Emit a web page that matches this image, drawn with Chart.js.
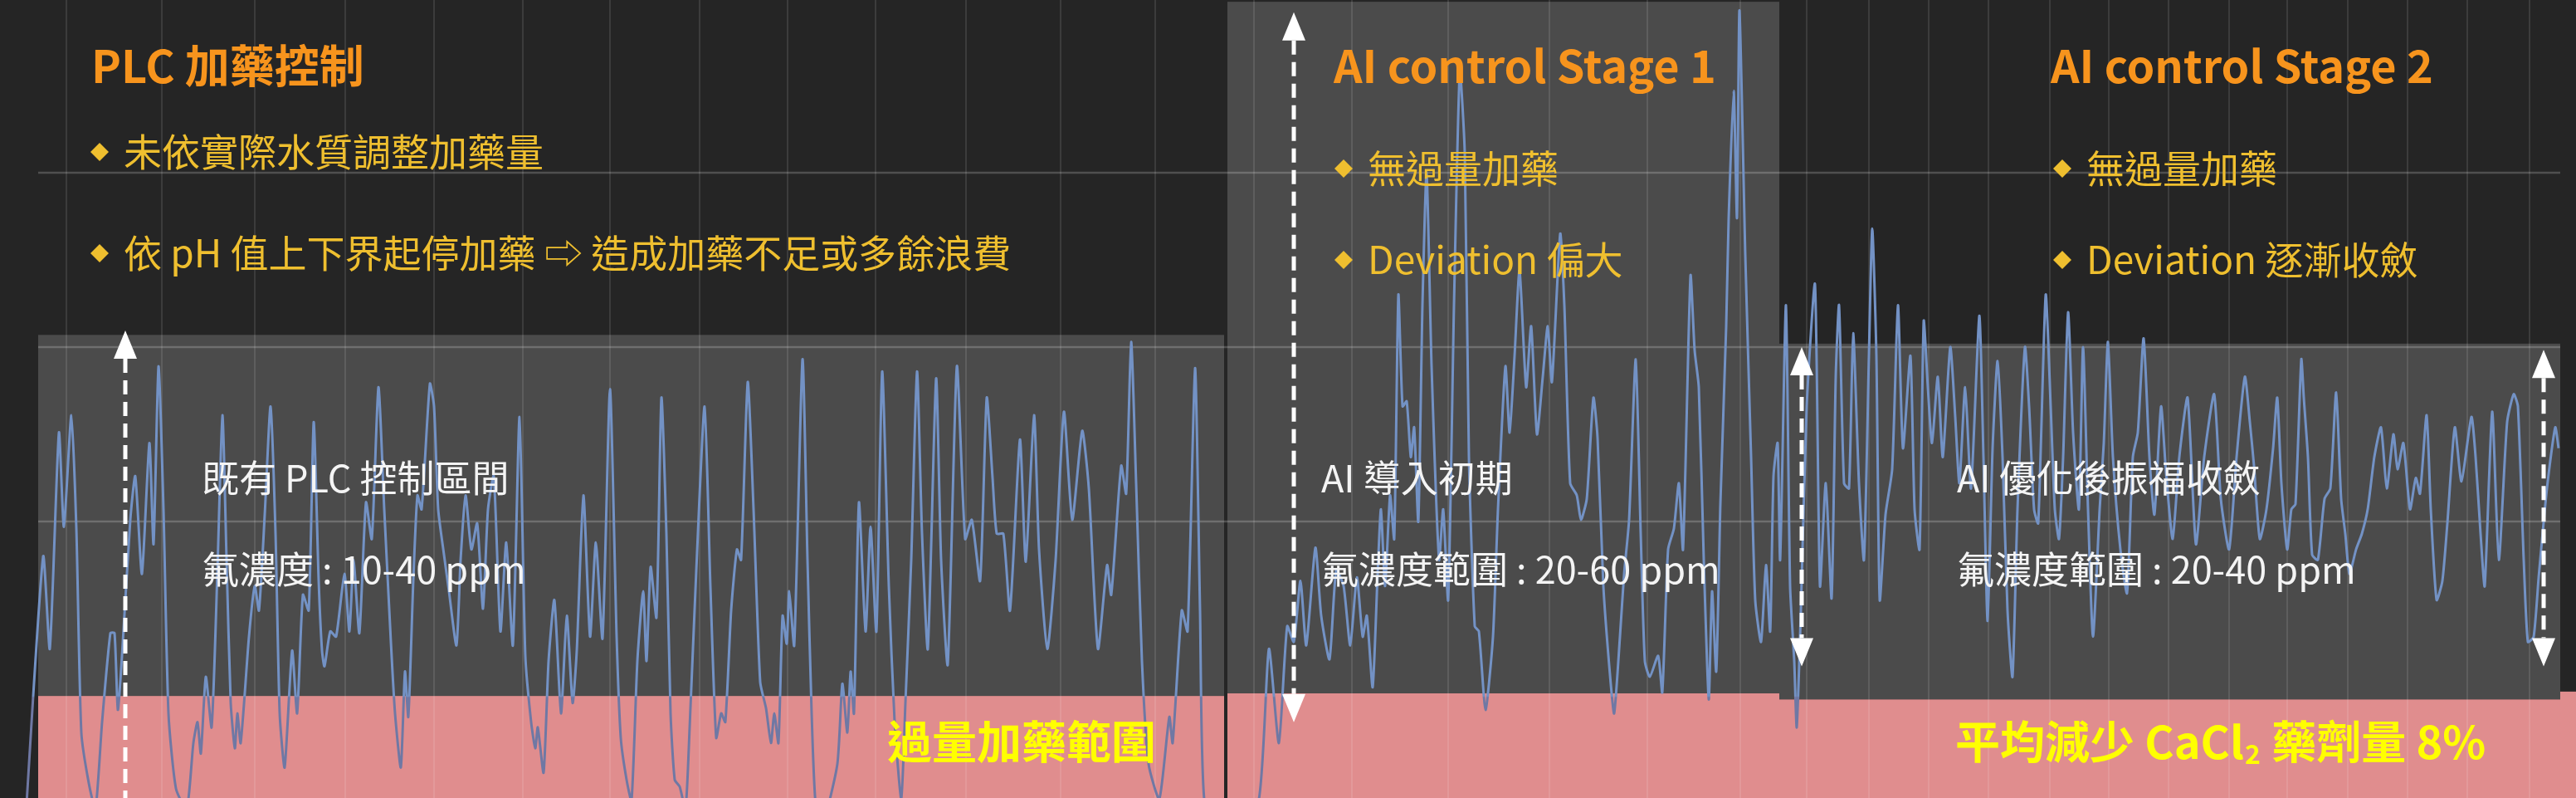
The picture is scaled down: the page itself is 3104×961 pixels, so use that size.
<!DOCTYPE html>
<html>
<head>
  <meta charset="UTF-8">
  <title>PLC 與 AI 加藥控制 - 氟濃度趨勢</title>
  <script src="https://cdn.jsdelivr.net/npm/chart.js"></script>
  <style>
    html, body { margin: 0; padding: 0; background: #252525; overflow: hidden; }
    #wrap { width: 3104px; height: 961px; }
  </style>
</head>
<body>
  <div id="wrap"><canvas id="fluorideChart" width="3104" height="961"></canvas></div>

  <script>
    // 取樣序號 / 氟濃度 (ppm)，依三個階段分開
    const plcTime = [7.5, 13, 15, 17.75, 19.25, 21.5, 23, 24.5, 26.75, 28.75,
      30.75, 33.25, 34.5, 35.5, 36.75, 39.25, 40.75, 42.75, 45, 46.25,
      47.75, 49.25, 50.75, 53, 56.25, 58.25, 59.5, 60.5, 62, 63.75,
      65.5, 67, 68.25, 69.5, 70.75, 71.5, 72.5, 75, 76.75, 78,
      79.75, 81.5, 83, 84.25, 85.75, 88, 89.5, 91.25, 93, 94.5,
      96, 97, 97.75, 99.5, 101.25, 103.75, 105.25, 106.5, 108.25, 110.25,
      112, 114, 115.75, 117.75, 119, 120.75, 122, 123, 124.5, 125.75,
      127, 129.5, 130.75, 132, 133.75, 135.25, 137.5, 138.75, 140.25, 142,
      143.75, 145.5, 147, 148.75, 150.75, 152.5, 154.5, 156.5, 158.25, 160,
      161.25, 162, 163.75, 165.25, 167, 169, 170.75, 172.5, 173.75, 175.75,
      177.75, 179.5, 181.5, 183.75, 185.75, 187, 188.75, 190.25, 192, 193.75,
      194.75, 196, 197.75, 199.25, 200.75, 202, 203.25, 204.75, 206.5, 207.75,
      209.75, 212.25, 214, 215.75, 217.25, 218.5, 220.25, 222, 223.25, 225.25,
      227, 229, 230.75, 232.25, 233.25, 234.5, 235.75, 237, 237.75, 239.25,
      241.75, 243.25, 244.5, 245.75, 248, 252.25, 253.75, 255.25, 256.25, 257.25,
      258.75, 260.75, 262.25, 264, 265.75, 267.75, 269.5, 271.5, 272.75, 274.5,
      276.25, 277.75, 279.5, 282, 283.5, 285.5, 288.25, 290.75, 292.75, 295.25,
      297.25, 299, 300.25, 302.25, 304.25, 307.25, 309, 311.5, 313, 315.5,
      318, 320.5, 323, 326, 328, 330.75, 333.5, 334.75, 337.75, 339.25,
      340.75, 342.25, 344, 346, 349.25, 352.25, 353.25, 356, 357.75, 360,
      361.5, 362.75, 367.5];
    const plcPpm = [2.3, 18.0, 12.7, 25.1, 19.7, 26.1, 19.6, 7.9, 5.0, 3.5,
      8.5, 13.6, 13.6, 9.2, 12.3, 20.1, 22.6, 17.0, 24.5, 18.7,
      28.9, 20.7, 9.0, 4.7, 3.5, 7.3, 8.5, 6.7, 11.1, 8.2,
      17.2, 26.1, 17.8, 9.6, 7.0, 9.0, 7.3, 13.4, 16.3, 14.9,
      20.4, 26.6, 19.3, 9.0, 5.9, 12.6, 9.0, 15.8, 14.9, 25.7,
      16.6, 12.6, 11.7, 13.7, 13.4, 17.0, 13.7, 17.8, 13.6, 21.1,
      19.0, 27.7, 20.7, 13.1, 9.0, 5.9, 11.4, 8.8, 16.6, 21.5,
      20.7, 27.9, 26.6, 20.7, 18.1, 16.0, 12.9, 17.8, 21.5, 18.4,
      19.9, 15.0, 20.7, 22.6, 13.7, 18.8, 12.9, 26.0, 12.3, 8.5,
      7.0, 8.2, 5.6, 12.0, 15.5, 9.0, 14.6, 9.6, 12.6, 21.5,
      13.4, 18.8, 13.3, 27.6, 13.4, 7.6, 5.2, 4.0, 12.0, 16.0,
      12.0, 17.4, 14.5, 27.1, 19.3, 9.0, 5.2, 4.8, 3.5, 8.2,
      17.2, 26.6, 16.3, 7.6, 9.0, 8.5, 14.9, 18.4, 17.8, 28.0,
      20.7, 10.8, 9.3, 7.3, 9.0, 7.3, 14.6, 13.0, 16.0, 12.9,
      29.3, 17.8, 9.0, 3.7, 2.8, 6.1, 10.7, 7.9, 11.4, 9.0,
      21.1, 13.7, 19.7, 13.7, 28.6, 16.3, 8.5, 4.1, 9.6, 17.8,
      28.6, 19.3, 12.7, 28.2, 17.8, 11.8, 28.9, 19.0, 20.1, 16.6,
      27.1, 22.5, 19.3, 19.3, 14.9, 24.7, 17.7, 26.1, 18.4, 12.7,
      17.8, 26.3, 20.1, 25.2, 21.9, 12.7, 17.5, 15.8, 23.2, 21.6,
      30.3, 22.2, 12.0, 6.1, 4.1, 8.8, 7.3, 14.9, 13.7, 28.8,
      14.9, 4.1, 2.3];

    const stage1Time = [372.5, 379.25, 382.25, 385.25, 387.75, 389.75, 391.75, 393.5, 396.25, 398,
      400.5, 402.5, 404.75, 406.75, 408.75, 410.5, 411.75, 413.5, 415, 416,
      417.25, 418.75, 420, 421.25, 422.5, 423.75, 425, 426, 427.25, 428.5,
      429.75, 431.25, 433.5, 434.75, 436.25, 438, 439.75, 441.25, 442.5, 444.25,
      445.5, 447.5, 449.75, 451.25, 453.5, 454.75, 456.25, 457.75, 459.75, 461.25,
      463, 464.75, 466.25, 467.5, 470, 471.25, 473, 475, 476.25, 478,
      480, 481.25, 483, 485, 486.25, 488, 489.25, 490.75, 492.75, 494.25,
      495.5, 497, 499.5, 500.75, 502.5, 504.25, 505.75, 507, 509.25, 510.5,
      511.75, 513.25, 514.75, 515.75, 517, 518.25, 520, 520.75, 522.25, 523.25,
      524, 525.75, 527.5, 528.75, 530.5, 532, 533.25, 534.25, 535.5];
    const stage1Ppm = [2.3, 4.1, 12.7, 7.3, 14.0, 13.1, 16.6, 12.9, 18.5, 14.6,
      12.1, 17.2, 16.3, 12.9, 16.8, 13.4, 14.6, 10.5, 17.0, 20.7,
      16.3, 21.5, 19.0, 33.0, 26.6, 26.9, 23.7, 25.4, 20.0, 32.4,
      40.0, 28.9, 17.8, 20.7, 15.5, 32.4, 45.8, 41.1, 23.7, 14.0,
      13.7, 9.2, 13.4, 20.7, 28.9, 25.1, 29.5, 34.4, 27.7, 31.2,
      25.0, 28.3, 31.2, 28.0, 36.5, 32.4, 22.2, 21.5, 20.1, 21.3,
      27.1, 24.8, 16.3, 11.2, 9.0, 13.4, 17.0, 20.1, 29.3, 19.3,
      12.0, 11.1, 12.3, 10.2, 18.4, 19.6, 22.2, 18.4, 34.1, 29.8,
      27.7, 17.8, 9.8, 16.0, 11.4, 21.0, 31.2, 37.4, 44.7, 37.4,
      49.3, 35.3, 23.7, 15.5, 13.1, 17.5, 13.7, 22.6, 24.5];

    const stage2Time = [536.25, 538, 539.25, 540.5, 541.25, 542.5, 544.25, 546.75, 548.25, 550,
      551.75, 553, 554, 555.5, 557, 558.25, 560, 561.5, 563, 564,
      565.25, 566.25, 568, 570, 571.75, 573.25, 575.5, 576.75, 578.25, 579.5,
      580.75, 582, 583.75, 585.25, 587.5, 589, 590.25, 592, 593.75, 596.25,
      597.5, 598.75, 600.25, 601.75, 603.25, 604.75, 606.25, 607.75, 610, 611.25,
      612.75, 614, 616.25, 617.75, 619, 620.25, 621.5, 623, 624.5, 626.25,
      627.5, 629, 630.5, 632.5, 633.75, 635, 636.5, 638.75, 640.75, 642.5,
      644, 645.75, 647.5, 649, 651, 652.5, 654.5, 656.5, 659, 661.5,
      664, 667, 669, 671.5, 673.75, 676.25, 677.75, 679, 680.75, 682.75,
      684.75, 686, 687.25, 689, 690.25, 691.5, 693.25, 694, 695.25, 696.5,
      698.25, 700.25, 702, 703.75, 705.25, 706.5, 707.75, 709.75, 711.5, 713.25,
      715.25, 717.25, 719, 721, 722.25, 724, 726, 727.75, 729, 731,
      732.25, 734, 735.75, 737.25, 739.5, 741.5, 744.5, 745.75, 747.25, 748.5,
      750.75, 752.75, 755.25, 757.25, 758.5, 760.25, 761.5, 763.25, 764.75, 767.25,
      769.75, 770.75];
    const stage2Ppm = [17.8, 32.4, 16.3, 12.0, 8.2, 14.9, 26.6, 33.6, 16.3, 22.2,
      15.6, 28.3, 32.4, 22.2, 21.9, 30.8, 22.2, 17.8, 29.5, 36.8,
      29.5, 15.5, 20.4, 23.0, 32.4, 24.2, 29.5, 20.7, 18.4, 31.5,
      27.7, 24.5, 28.3, 23.7, 30.0, 26.0, 22.2, 27.7, 21.9, 31.8,
      23.7, 14.3, 24.2, 29.2, 23.7, 14.9, 11.1, 20.7, 30.0, 26.6,
      20.7, 19.9, 33.0, 26.6, 20.7, 19.0, 23.7, 32.0, 25.1, 20.7,
      30.0, 20.7, 13.4, 20.7, 24.5, 30.3, 23.7, 18.4, 15.9, 23.7,
      25.1, 30.5, 23.7, 20.4, 26.6, 22.8, 19.0, 23.7, 27.1, 18.7,
      23.7, 27.3, 21.3, 18.4, 23.7, 28.3, 25.7, 23.2, 19.0, 20.7,
      24.2, 27.1, 22.2, 18.4, 20.7, 21.0, 29.3, 27.1, 23.7, 18.1,
      17.8, 21.3, 21.9, 27.4, 21.3, 19.3, 17.0, 18.4, 19.3, 20.7,
      23.7, 25.4, 21.9, 25.0, 23.0, 24.5, 20.7, 22.5, 21.6, 26.1,
      20.7, 15.5, 16.6, 19.9, 25.4, 22.3, 26.0, 23.7, 19.3, 16.3,
      26.3, 17.8, 25.7, 27.3, 26.6, 17.8, 13.1, 13.4, 16.8, 21.9,
      25.4, 24.2];

    // 格線位置
    const xGridTicks = [20, 48.75, 76.75, 104, 130.75, 157.5, 183.75, 210.75, 237.25, 263.75,
      291, 319.5, 348, 377.75, 407.25, 436.25, 466.75, 496.25, 524.25, 544.25,
      563, 581, 599, 617.5, 635.25, 653.25, 671.5, 689, 707.25, 725.25, 743.25, 762];
    const yGridTicks = [20, 30, 40];

    // 各階段區間 (取樣序號 / ppm)
    const bands = [
      { from: 11.5, to: 368.75, top: 30.7, pink: 10.0 },
      { from: 369.75, to: 536, top: 49.8, pink: 10.15 },
      { from: 536, to: 771.25, top: 30.2, pink: 9.8 },
      { from: 771.25, to: 776, top: 10.25, pink: 10.25 }
    ];
    const arrows = [
      { t: 37.75, top: 30.95, bottom: 0, down: false },
      { t: 389.75, top: 49.2, bottom: 8.5, down: true },
      { t: 542.75, top: 30.0, bottom: 11.7, down: true },
      { t: 766.25, top: 29.85, bottom: 11.7, down: true }
    ];

    const FONT = '"Noto Sans CJK TC", "Noto Sans", "DejaVu Sans", sans-serif';
    const ORANGE = '#f7941d';
    const GOLD = '#efbf2f';
    const YELLOW = '#ffff00';
    const WHITE = '#f4f4f4';

    const titles = [
      { text: 'PLC 加藥控制', x: 110, y: 79 },
      { text: 'AI control Stage 1', x: 1607, y: 79 },
      { text: 'AI control Stage 2', x: 2471, y: 79 }
    ];
    const bullets = [
      { text: '未依實際水質調整加藥量', x: 120, y: 183 },
      { text: '依 pH 值上下界起停加藥 ⇨ 造成加藥不足或多餘浪費', x: 120, y: 305 },
      { text: '無過量加藥', x: 1619, y: 203 },
      { text: 'Deviation 偏大', x: 1619, y: 313 },
      { text: '無過量加藥', x: 2485, y: 203 },
      { text: 'Deviation 逐漸收斂', x: 2485, y: 313 }
    ];
    const notes = [
      { text: '既有 PLC 控制區間', x: 243, y: 576 },
      { text: '氟濃度 : 10-40 ppm', x: 243, y: 686 },
      { text: 'AI 導入初期', x: 1592, y: 576 },
      { text: '氟濃度範圍 : 20-60 ppm', x: 1592, y: 686 },
      { text: 'AI 優化後振福收斂', x: 2358, y: 576 },
      { text: '氟濃度範圍 : 20-40 ppm', x: 2358, y: 686 }
    ];

    function toPoints(ts, vs) {
      return ts.map((t, i) => ({ x: t, y: vs[i] }));
    }

    function drawArrow(ctx, x, yTop, yBottom, down) {
      const hw = 14, hh = 34;
      ctx.save();
      ctx.strokeStyle = '#ffffff';
      ctx.fillStyle = '#ffffff';
      ctx.lineWidth = 5;
      ctx.setLineDash([17, 9]);
      ctx.beginPath();
      ctx.moveTo(x, yTop + hh);
      ctx.lineTo(x, down ? yBottom - hh : yBottom);
      ctx.stroke();
      ctx.setLineDash([]);
      ctx.beginPath();
      ctx.moveTo(x, yTop);
      ctx.lineTo(x + hw, yTop + hh);
      ctx.lineTo(x - hw, yTop + hh);
      ctx.closePath();
      ctx.fill();
      if (down) {
        ctx.beginPath();
        ctx.moveTo(x, yBottom);
        ctx.lineTo(x + hw, yBottom - hh);
        ctx.lineTo(x - hw, yBottom - hh);
        ctx.closePath();
        ctx.fill();
      }
      ctx.restore();
    }

    const overlay = {
      id: 'overlay',
      beforeDraw(chart) {
        const { ctx, scales: { x, y } } = chart;
        ctx.save();
        ctx.fillStyle = '#252525';
        ctx.fillRect(0, 0, chart.width, chart.height);
        bands.forEach(b => {
          const l = x.getPixelForValue(b.from);
          const r = x.getPixelForValue(b.to);
          const t = y.getPixelForValue(b.top);
          const p = y.getPixelForValue(b.pink);
          ctx.fillStyle = '#4b4b4b';
          ctx.fillRect(l, t, r - l, p - t);
          ctx.fillStyle = '#e08d8e';
          ctx.fillRect(l, p, r - l, chart.height - p);
        });
        ctx.restore();
      },
      beforeDatasetsDraw(chart) {
        const { ctx, scales: { x, y } } = chart;
        const l = x.getPixelForValue(bands[0].from);
        const r = x.getPixelForValue(bands[2].to);
        ctx.save();
        ctx.strokeStyle = 'rgba(255,255,255,0.2)';
        ctx.lineWidth = 2.5;
        yGridTicks.forEach(v => {
          const yp = Math.round(y.getPixelForValue(v));
          ctx.beginPath();
          ctx.moveTo(l, yp);
          ctx.lineTo(r, yp);
          ctx.stroke();
        });
        ctx.restore();
      },
      afterDatasetsDraw(chart) {
        const { ctx, scales: { x, y } } = chart;
        ctx.save();
        ctx.textBaseline = 'middle';
        ctx.textAlign = 'left';

        ctx.fillStyle = ORANGE;
        ctx.font = '600 54px ' + FONT;
        titles.forEach(t => ctx.fillText(t.text, t.x, t.y));

        ctx.font = '46px ' + FONT;
        bullets.forEach(b => {
          ctx.fillStyle = GOLD;
          ctx.beginPath();
          ctx.moveTo(b.x, b.y - 11);
          ctx.lineTo(b.x + 11, b.y);
          ctx.lineTo(b.x, b.y + 11);
          ctx.lineTo(b.x - 11, b.y);
          ctx.closePath();
          ctx.fill();
          ctx.fillText(b.text, b.x + 29, b.y);
        });

        ctx.fillStyle = WHITE;
        ctx.font = '45px ' + FONT;
        notes.forEach(n => ctx.fillText(n.text, n.x, n.y));

        ctx.fillStyle = YELLOW;
        ctx.font = 'bold 54px ' + FONT;
        ctx.fillText('過量加藥範圍', 1069, 893);

        let cx = 2356;
        const part1 = '平均減少 CaCl';
        ctx.fillText(part1, cx, 893);
        cx += ctx.measureText(part1).width;
        ctx.font = 'bold 32px ' + FONT;
        ctx.fillText('2', cx + 1, 908);
        cx += ctx.measureText('2').width + 2;
        ctx.font = 'bold 54px ' + FONT;
        ctx.fillText(' 藥劑量 8%', cx, 893);

        arrows.forEach(a => {
          drawArrow(ctx, x.getPixelForValue(a.t), y.getPixelForValue(a.top),
            a.down ? y.getPixelForValue(a.bottom) : chart.height, a.down);
        });
        ctx.restore();
      }
    };

    const ctx = document.getElementById('fluorideChart').getContext('2d');
    const chart = new Chart(ctx, {
      type: 'line',
      data: {
        datasets: [{
          label: '氟濃度',
          data: [
            ...toPoints(plcTime, plcPpm),
            ...toPoints(stage1Time, stage1Ppm),
            ...toPoints(stage2Time, stage2Ppm)
          ],
          borderColor(context) {
            const c = context.chart;
            if (!c.chartArea) return '#7392c5';
            const edge = c.scales.y.getPixelForValue(10) / c.height;
            const g = c.ctx.createLinearGradient(0, 0, 0, c.height);
            g.addColorStop(0, '#7392c5');
            g.addColorStop(edge, '#7392c5');
            g.addColorStop(Math.min(1, edge + 0.002), '#6f78a4');
            g.addColorStop(1, '#6f78a4');
            return g;
          },
          borderWidth: 3,
          pointRadius: 0,
          tension: 0.2,
          fill: false
        }]
      },
      options: {
        responsive: false,
        animation: false,
        layout: { padding: 0 },
        plugins: {
          legend: { display: false },
          tooltip: { enabled: false }
        },
        scales: {
          x: {
            type: 'linear',
            min: 0,
            max: 776,
            afterBuildTicks(scale) {
              scale.ticks = xGridTicks.map(v => ({ value: v }));
            },
            ticks: { display: false },
            border: { display: false },
            grid: { color: 'rgba(255,255,255,0.11)', lineWidth: 2, drawTicks: false }
          },
          y: {
            display: false,
            min: 4.15,
            max: 49.9
          }
        }
      },
      plugins: [overlay]
    });
  </script>
</body>
</html>
